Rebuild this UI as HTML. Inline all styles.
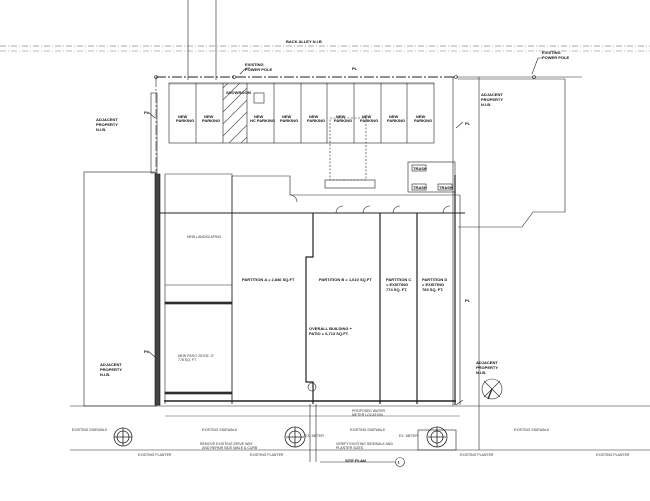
<!DOCTYPE html>
<html><head><style>
html,body{margin:0;padding:0;background:#fff;}
svg{display:block;font-family:"Liberation Sans",sans-serif;}
.t{font-size:4px;font-weight:bold;fill:#111;}
.s{font-size:3.5px;fill:#333;}
</style></head><body>
<svg width="650" height="501" viewBox="0 0 650 501" xmlns="http://www.w3.org/2000/svg">
<rect width="650" height="501" fill="#fff"/>
<g stroke="#222" fill="none" stroke-width="0.6">
<!-- alley -->
<line x1="0" y1="46" x2="650" y2="46" stroke-dasharray="6,2,1,2" stroke="#555"/>
<line x1="0" y1="51" x2="650" y2="51" stroke-dasharray="6,2,1,2" stroke="#777"/>
<line x1="188" y1="0" x2="188" y2="80"/>
<line x1="216" y1="0" x2="216" y2="80"/>
<!-- property line top -->
<line x1="156" y1="77" x2="456" y2="77" stroke-width="1" stroke-dasharray="10,2,2,2"/>
<line x1="456" y1="77" x2="582" y2="77"/>
<circle cx="156" cy="77" r="1.5"/><circle cx="456" cy="77" r="1.5"/><circle cx="234" cy="77" r="1.5"/><circle cx="534" cy="77" r="1.5"/>
<!-- parking -->
<rect x="169" y="83" width="265" height="60"/>
<line x1="196" y1="83" x2="196" y2="143"/><line x1="223" y1="83" x2="223" y2="143"/><line x1="247" y1="83" x2="247" y2="143"/>
<line x1="274" y1="83" x2="274" y2="143"/><line x1="301" y1="83" x2="301" y2="143"/><line x1="327" y1="83" x2="327" y2="143"/>
<line x1="354" y1="83" x2="354" y2="143"/><line x1="381" y1="83" x2="381" y2="143"/><line x1="407" y1="83" x2="407" y2="143"/>
<line x1="169" y1="84" x2="434" y2="84" stroke-width="0.3"/>
<g stroke-width="0.7" stroke="#555">
<line x1="223" y1="100" x2="240" y2="83"/><line x1="223" y1="112" x2="247" y2="88"/><line x1="223" y1="124" x2="247" y2="100"/><line x1="223" y1="136" x2="247" y2="112"/><line x1="229" y1="143" x2="247" y2="125"/><line x1="241" y1="143" x2="247" y2="137"/><line x1="223" y1="88" x2="228" y2="83"/>
</g>
<rect x="254" y="93" width="10" height="10"/>
<!-- dashed ramp box -->
<rect x="330" y="118" width="36" height="62" stroke-dasharray="2,1.5"/>
<!-- left property -->
<line x1="156" y1="77" x2="156" y2="406" stroke-dasharray="10,2,2,2"/>
<rect x="151" y="93" width="6" height="80"/>
<rect x="84" y="172" width="72" height="234"/>
<rect x="155" y="174" width="5" height="231" fill="#444" stroke="#111"/>
<!-- building -->
<path d="M165 174 H232 V176 H290 V195 H460 V405"/>
<path d="M232 176 V404" stroke-width="0.9"/>
<line x1="165" y1="174" x2="165" y2="404"/>
<path d="M160 213 H465" stroke-width="0.9"/>
<path d="M313 213 V257 H306 V382 H313 V404" stroke-width="1.2"/>
<line x1="380" y1="213" x2="380" y2="404" stroke-width="1.2"/>
<line x1="417" y1="213" x2="417" y2="404" stroke-width="1.2"/>
<line x1="455" y1="175" x2="455" y2="405" stroke-width="1.2"/>
<path d="M164 401 H456" stroke-width="1.4"/>
<line x1="165" y1="285" x2="232" y2="285"/>
<rect x="165" y="302" width="67" height="2" fill="#333"/>
<rect x="165" y="392" width="67" height="2" fill="#333"/>
<!-- service area -->
<rect x="325" y="180" width="50" height="8"/>
<rect x="408" y="162" width="47" height="30"/>
<rect x="412" y="165" width="14" height="6"/><rect x="412" y="184" width="14" height="6"/><rect x="438" y="184" width="14" height="6"/>
<path d="M336 213 A7 7 0 0 1 343 206 M363 213 A7 7 0 0 1 370 206 M393 213 A7 7 0 0 1 400 206 M443 213 A7 7 0 0 1 450 206 M290 195 A7 7 0 0 1 297 202"/>
<circle cx="312" cy="387" r="4"/>
<!-- front -->
<line x1="70" y1="406" x2="650" y2="406"/>
<line x1="70" y1="450" x2="650" y2="450"/>
<line x1="165" y1="416" x2="460" y2="416" stroke-width="0.4"/>
<line x1="310" y1="404" x2="310" y2="462"/><line x1="316" y1="404" x2="316" y2="462"/>
<line x1="320" y1="462" x2="395" y2="462"/>
<circle cx="400" cy="462" r="4.5"/>
<!-- right property -->
<path d="M458 79 H565 V212 L533 212 L522 227 H458"/>
<line x1="479" y1="77" x2="479" y2="450"/>
<line x1="453" y1="77" x2="453" y2="406"/>
<circle cx="492" cy="389" r="10"/>
<line x1="484" y1="381" x2="500" y2="397"/><line x1="500" y1="381" x2="484" y2="397"/>
<line x1="492" y1="389" x2="488" y2="399" stroke-width="1.2"/>
<!-- trees -->
<g stroke-width="0.8">
<circle cx="123" cy="437" r="9"/><circle cx="123" cy="437" r="6"/>
<circle cx="295" cy="437" r="10"/><circle cx="295" cy="437" r="6"/>
<circle cx="437" cy="437" r="10"/><circle cx="437" cy="437" r="6"/>
<path d="M114 437 H132 M123 428 V446 M286 437 H304 M295 427 V447 M428 437 H446 M437 427 V447"/>
</g>
<rect x="418" y="430" width="38" height="20"/>
<!-- leaders -->
<path d="M240 74 L246 68 H250"/><path d="M532 74 L538 58 H542"/>
<path d="M148 112 L155 118 M148 351 L155 357 M463 122 L456 128 M463 400 L456 405"/>
</g>
<!-- texts -->
<text x="286" y="43" class="t">BACK ALLEY N.I.B</text>
<text x="245" y="66" class="t">EXISTING</text><text x="245" y="71" class="t">POWER POLE</text>
<text x="542" y="54" class="t">EXISTING</text><text x="542" y="59" class="t">POWER POLE</text>
<text x="352" y="70" class="t">PL</text><text x="144" y="114" class="t">PL</text><text x="465" y="125" class="t">PL</text>
<text x="144" y="353" class="t">PL</text><text x="465" y="302" class="t">PL</text>
<text x="96" y="121" class="t">ADJACENT</text><text x="96" y="126" class="t">PROPERTY</text><text x="96" y="131" class="t">N.I.B.</text>
<text x="100" y="366" class="t">ADJACENT</text><text x="100" y="371" class="t">PROPERTY</text><text x="100" y="376" class="t">N.I.B.</text>
<text x="481" y="96" class="t">ADJACENT</text><text x="481" y="101" class="t">PROPERTY</text><text x="481" y="106" class="t">N.I.B.</text>
<text x="476" y="364" class="t">ADJACENT</text><text x="476" y="369" class="t">PROPERTY</text><text x="476" y="374" class="t">N.I.B.</text>
<g class="t" font-size="3">
<text x="178" y="118">NEW</text><text x="176" y="122">PARKING</text>
<text x="204" y="118">NEW</text><text x="202" y="122">PARKING</text>
<text x="254" y="118">NEW</text><text x="250" y="122">HC PARKING</text>
<text x="282" y="118">NEW</text><text x="280" y="122">PARKING</text>
<text x="309" y="118">NEW</text><text x="307" y="122">PARKING</text>
<text x="336" y="118">NEW</text><text x="334" y="122">PARKING</text>
<text x="362" y="118">NEW</text><text x="360" y="122">PARKING</text>
<text x="389" y="118">NEW</text><text x="387" y="122">PARKING</text>
<text x="416" y="118">NEW</text><text x="414" y="122">PARKING</text>
<text x="226" y="94">SHOWROOM</text>
</g>
<text x="413" y="170" class="t">TRASH</text><text x="413" y="189" class="t">TRASH</text><text x="439" y="189" class="t">TRASH</text>
<text x="242" y="281" class="t">PARTITION A = 2,846 SQ.FT</text>
<text x="319" y="281" class="t">PARTITION B = 1,610 SQ.FT</text>
<text x="386" y="281" class="t">PARTITION C</text><text x="386" y="286" class="t">= EXISTING</text><text x="386" y="291" class="t">774 SQ. FT.</text>
<text x="422" y="281" class="t">PARTITION D</text><text x="422" y="286" class="t">= EXISTING</text><text x="422" y="291" class="t">783 SQ. FT.</text>
<text x="309" y="330" class="t">OVERALL BUILDING +</text><text x="309" y="335" class="t">PATIO = 6,713 SQ.FT.</text>
<text x="187" y="238" class="s">NEW LANDSCAPING</text>
<text x="178" y="357" class="s">NEW PATIO 25'X31'-3"</text><text x="178" y="361" class="s">778 SQ. FT.</text>
<text x="72" y="431" class="s">EXISTING SIDEWALK</text>
<text x="202" y="431" class="s">EXISTING SIDEWALK</text>
<text x="350" y="431" class="s">EXISTING SIDEWALK</text>
<text x="514" y="431" class="s">EXISTING SIDEWALK</text>
<text x="138" y="456" class="s">EXISTING PLANTER</text>
<text x="250" y="456" class="s">EXISTING PLANTER</text>
<text x="460" y="456" class="s">EXISTING PLANTER</text>
<text x="596" y="456" class="s">EXISTING PLANTER</text>
<text x="200" y="445" class="s">REMOVE EXISTING DRIVE WAY</text><text x="202" y="449" class="s">AND REPAIR SIDE WALK &amp; CURB</text>
<text x="336" y="445" class="s">VERIFY EXISTING SIDEWALK AND</text><text x="336" y="449" class="s">PLANTER SIZES</text>
<text x="305" y="437" class="s">EX. METER</text><text x="399" y="437" class="s">EX. METER</text>
<text x="352" y="412" class="s">PROPOSED WATER</text><text x="352" y="416" class="s">METER LOCATION</text>
<text x="345" y="462" class="t">SITE PLAN</text>
<text x="397.5" y="463.5" class="t">1</text>
</svg>
</body></html>
